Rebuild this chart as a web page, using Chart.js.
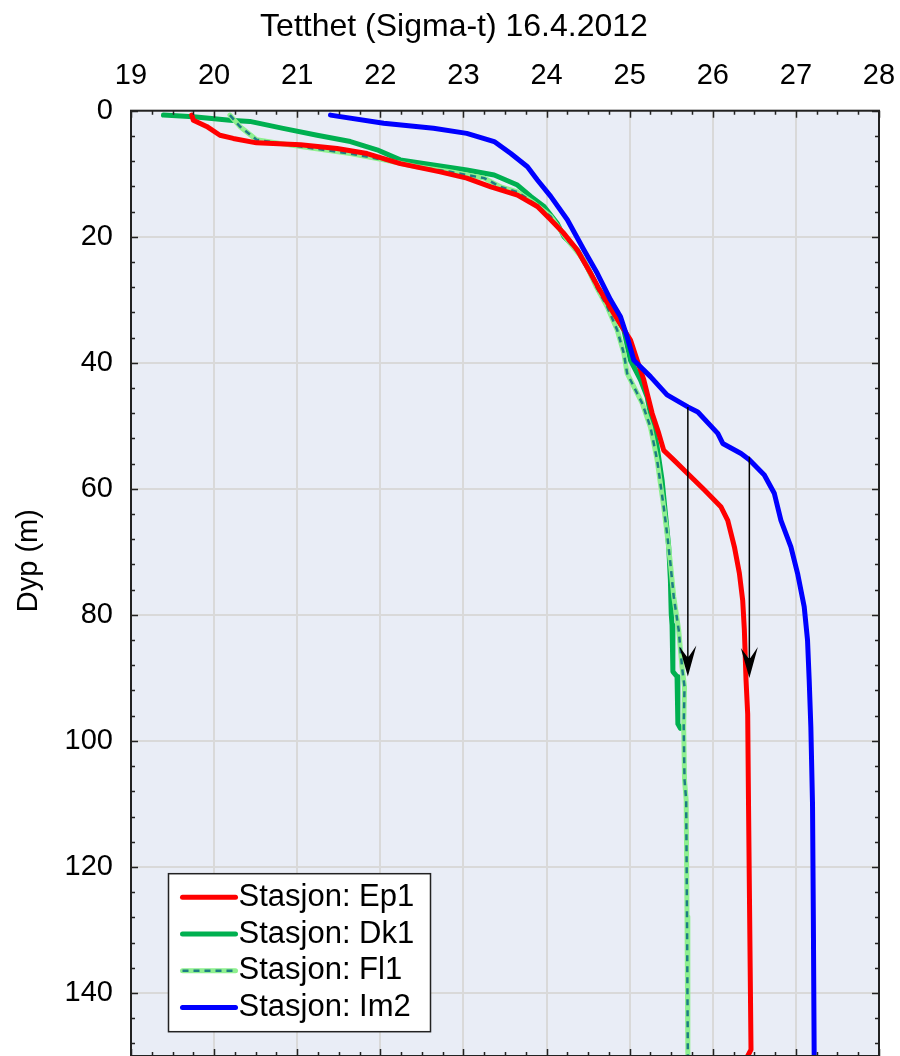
<!DOCTYPE html>
<html>
<head>
<meta charset="utf-8">
<script src="https://cdn.jsdelivr.net/npm/chart.js@4.4.1/dist/chart.umd.min.js"></script>
<style>
  html, body { margin: 0; padding: 0; background: #ffffff; }
  #wrap { width: 900px; height: 1056px; }
</style>
</head>
<body>
<div id="wrap"><canvas id="chart" width="900" height="1056"></canvas></div>
<script>
// Density profiles (sigma-t) versus depth, 16.4.2012
const chartTitle = 'Tetthet (Sigma-t) 16.4.2012';
const depthTitle = 'Dyp (m)';

const ep1Depth = [0.7, 1.5, 2.5, 3.9, 4.4, 5.1, 5.4, 6.0, 6.8, 8.4, 9.7, 10.7, 12.1, 13.4, 15.2, 17.3, 19.5, 22.1, 25.8, 28.0, 32.2, 36.4, 39.6, 42.7, 48.0, 51.2, 53.9, 55.4, 57.6, 60.2, 62.9, 65.0, 69.2, 73.4, 77.7, 82.4, 90.3, 95.7, 110, 136, 149, 150];
const ep1Sigma = [19.73, 19.75, 19.91, 20.07, 20.23, 20.51, 21.04, 21.48, 21.84, 22.24, 22.72, 23.04, 23.33, 23.65, 23.89, 24.05, 24.21, 24.37, 24.53, 24.62, 24.81, 25.01, 25.09, 25.17, 25.27, 25.35, 25.41, 25.53, 25.70, 25.90, 26.10, 26.18, 26.26, 26.32, 26.36, 26.38, 26.40, 26.42, 26.43, 26.45, 26.46, 26.42];

const dk1Depth = [0.7, 0.95, 1.5, 1.7, 2.8, 3.9, 4.9, 6.2, 7.8, 8.6, 9.4, 10.2, 11.8, 13.6, 15.2, 17.9, 20.0, 22.1, 24.8, 27.9, 31.1, 34.8, 39.6, 42.7, 45.4, 48.0, 53.3, 58.6, 63.9, 69.2, 74.5, 79.8, 81.6, 89.0, 89.8, 97.3, 98.0];
const dk1Sigma = [19.39, 19.75, 20.19, 20.43, 20.83, 21.24, 21.64, 21.96, 22.24, 22.64, 23.04, 23.37, 23.65, 23.81, 23.97, 24.13, 24.21, 24.37, 24.49, 24.61, 24.77, 24.93, 25.01, 25.13, 25.21, 25.25, 25.33, 25.39, 25.43, 25.47, 25.49, 25.50, 25.51, 25.52, 25.57, 25.58, 25.61];

const fl1Depth = [0.7, 2.5, 4.6, 5.7, 6.8, 7.8, 8.9, 9.7, 10.7, 12.1, 12.9, 14.7, 16.8, 20.5, 23.7, 28.0, 31.1, 34.8, 38.5, 41.7, 43.8, 46.4, 50.2, 55.4, 62.9, 67.1, 71.8, 77.1, 82.4, 88.3, 91.4, 97.8, 106.2, 109.4, 127.9, 150];
const fl1Sigma = [20.19, 20.31, 20.51, 21.04, 21.64, 22.04, 22.44, 22.84, 23.25, 23.45, 23.65, 23.85, 24.05, 24.25, 24.45, 24.60, 24.73, 24.85, 24.93, 24.97, 25.05, 25.15, 25.25, 25.33, 25.41, 25.45, 25.49, 25.53, 25.59, 25.63, 25.66, 25.65, 25.66, 25.68, 25.69, 25.70];

const im2Depth = [0.7, 2.0, 2.8, 3.6, 4.9, 6.8, 8.9, 11.0, 13.6, 17.3, 22.1, 25.8, 30.0, 32.7, 35.9, 39.6, 42.2, 45.1, 47.0, 47.8, 51.2, 52.8, 54.4, 55.4, 57.8, 60.7, 65.0, 69.2, 73.4, 78.7, 84.0, 90.3, 97.8, 110, 128, 150];
const im2Sigma = [21.40, 22.04, 22.64, 23.04, 23.37, 23.57, 23.77, 23.89, 24.05, 24.25, 24.45, 24.61, 24.77, 24.89, 24.97, 25.05, 25.25, 25.45, 25.70, 25.82, 26.06, 26.12, 26.34, 26.44, 26.62, 26.74, 26.82, 26.94, 27.02, 27.10, 27.14, 27.16, 27.18, 27.20, 27.21, 27.22];

const stationLabels = ['Stasjon: Ep1', 'Stasjon: Dk1', 'Stasjon: Fl1', 'Stasjon: Im2'];

// Vertical arrows: sigma-t position, start depth, end depth
const arrowSigma = [25.70, 26.44];
const arrowFromDepth = [47.0, 54.9];
const arrowToDepth = [89.8, 90.0];

const sigmaMin = 19, sigmaMax = 28, sigmaStep = 1, sigmaMinorStep = 0.25;
const depthMin = 0, depthMax = 150, depthStep = 20, depthMinorStep = 4;

const FONT = "'Liberation Sans', Arial, sans-serif";
const RED = '#ff0000', GREEN = '#00b050', LIGHTGREEN = '#8ff08f', TEAL = '#1d7d84', BLUE = '#0000ff';

function pairs(xs, ys) { return xs.map((v, i) => ({ x: v, y: ys[i] })); }

const lineBase = { showLine: true, pointRadius: 0, pointHoverRadius: 0, tension: 0, fill: false, borderJoinStyle: 'round', borderCapStyle: 'round' };

const datasets = [
  Object.assign({ label: stationLabels[3], data: pairs(im2Sigma, im2Depth), borderColor: BLUE, borderWidth: 5 }, lineBase),
  Object.assign({ label: stationLabels[0], data: pairs(ep1Sigma, ep1Depth), borderColor: RED, borderWidth: 5 }, lineBase),
  Object.assign({ label: stationLabels[2] + ' dash', data: pairs(fl1Sigma, fl1Depth), borderColor: TEAL, borderWidth: 2.5, borderDash: [6, 5] }, lineBase, { borderCapStyle: 'butt' }),
  Object.assign({ label: stationLabels[2], data: pairs(fl1Sigma, fl1Depth), borderColor: LIGHTGREEN, borderWidth: 5 }, lineBase),
  Object.assign({ label: stationLabels[1], data: pairs(dk1Sigma, dk1Depth), borderColor: GREEN, borderWidth: 5 }, lineBase)
];

// Plot background
const plotBackground = {
  id: 'plotBackground',
  beforeDraw(chart) {
    const { ctx, chartArea: a } = chart;
    ctx.save();
    ctx.fillStyle = '#e9edf6';
    ctx.fillRect(a.left, a.top, a.right - a.left, a.bottom - a.top);
    ctx.restore();
  }
};

// Frame with inward tick marks on all four sides
const frameTicks = {
  id: 'frameTicks',
  afterDatasetsDraw(chart) {
    const { ctx, chartArea: a, scales } = chart;
    const xs = scales.x, ys = scales.y;
    ctx.save();
    ctx.strokeStyle = '#222';
    ctx.lineWidth = 1.5;
    ctx.beginPath();
    const perMajorX = Math.round(sigmaStep / sigmaMinorStep);
    for (let i = 0; sigmaMin + i * sigmaMinorStep <= sigmaMax + 1e-9; i++) {
      const v = sigmaMin + i * sigmaMinorStep;
      const px = Math.round(xs.getPixelForValue(v)) + 0.5;
      const len = (i % perMajorX === 0) ? 7 : 4;
      ctx.moveTo(px, a.top); ctx.lineTo(px, a.top + len);
      ctx.moveTo(px, a.bottom); ctx.lineTo(px, a.bottom - len);
    }
    for (let v = depthMin; v <= depthMax; v += depthMinorStep) {
      const py = Math.round(ys.getPixelForValue(v)) + 0.5;
      const len = (v % depthStep === 0) ? 7 : 4;
      ctx.moveTo(a.left, py); ctx.lineTo(a.left + len, py);
      ctx.moveTo(a.right, py); ctx.lineTo(a.right - len, py);
    }
    ctx.stroke();
    ctx.lineWidth = 2;
    ctx.strokeRect(a.left, a.top, a.right - a.left, a.bottom - a.top);
    ctx.restore();
  }
};

// Arrows between profiles
const arrows = {
  id: 'arrows',
  afterDatasetsDraw(chart) {
    const { ctx, scales } = chart;
    ctx.save();
    ctx.strokeStyle = '#000';
    ctx.fillStyle = '#000';
    ctx.lineWidth = 1.5;
    arrowSigma.forEach((s, i) => {
      const x = scales.x.getPixelForValue(s);
      const y0 = scales.y.getPixelForValue(arrowFromDepth[i]);
      const y1 = scales.y.getPixelForValue(arrowToDepth[i]);
      ctx.beginPath();
      ctx.moveTo(x, y0);
      ctx.lineTo(x, y1 - 18);
      ctx.stroke();
      ctx.beginPath();
      ctx.moveTo(x, y1);
      ctx.lineTo(x - 8.5, y1 - 30);
      ctx.lineTo(x - 1, y1 - 20);
      ctx.lineTo(x + 1, y1 - 20);
      ctx.lineTo(x + 8.5, y1 - 31);
      ctx.closePath();
      ctx.fill();
    });
    ctx.restore();
  }
};

// Legend box in the lower left of the plot
const legendBox = {
  id: 'legendBox',
  afterDraw(chart) {
    const { ctx, chartArea: a } = chart;
    const left = a.left + 37.5, top = a.top + 763, w = 262, h = 158;
    ctx.save();
    ctx.fillStyle = '#ffffff';
    ctx.fillRect(left, top, w, h);
    ctx.strokeStyle = '#222';
    ctx.lineWidth = 1.5;
    ctx.strokeRect(left, top, w, h);
    const rows = [
      [{ c: RED, w: 5 }],
      [{ c: GREEN, w: 5 }],
      [{ c: LIGHTGREEN, w: 5 }, { c: TEAL, w: 2.5, dash: [6, 5] }],
      [{ c: BLUE, w: 5 }]
    ];
    const x0 = left + 14, x1 = left + 67;
    rows.forEach((strokes, i) => {
      const y = top + 23.5 + i * 36.8;
      strokes.forEach(s => {
        ctx.beginPath();
        ctx.strokeStyle = s.c;
        ctx.lineWidth = s.w;
        ctx.lineCap = s.dash ? 'butt' : 'round';
        ctx.setLineDash(s.dash || []);
        ctx.moveTo(x0, y); ctx.lineTo(x1, y);
        ctx.stroke();
      });
      ctx.setLineDash([]);
      ctx.fillStyle = '#000';
      ctx.font = '31px ' + FONT;
      ctx.textAlign = 'left';
      ctx.textBaseline = 'middle';
      ctx.fillText(stationLabels[i], x1 + 3, y);
    });
    ctx.restore();
  }
};

// Chart title and rotated depth title
const titles = {
  id: 'titles',
  afterDraw(chart) {
    const { ctx, chartArea: a } = chart;
    ctx.save();
    ctx.fillStyle = '#000';
    ctx.font = '32px ' + FONT;
    ctx.textAlign = 'center';
    ctx.textBaseline = 'middle';
    ctx.fillText(chartTitle, 454, 27);
    ctx.translate(29, a.top + 450);
    ctx.rotate(-Math.PI / 2);
    ctx.font = '29px ' + FONT;
    ctx.fillText(depthTitle, 0, 0);
    ctx.restore();
  }
};

function noEdgePadding(scale) {
  scale.paddingLeft = 0;
  scale.paddingRight = 0;
  scale.paddingTop = 0;
  scale.paddingBottom = 0;
}

Chart.defaults.font.family = FONT;
Chart.defaults.color = '#000';

new Chart(document.getElementById('chart'), {
  type: 'scatter',
  data: { datasets },
  options: {
    responsive: false,
    animation: false,
    events: [],
    layout: { autoPadding: false, padding: { left: 0, right: 21, top: 50.7, bottom: 0 } },
    plugins: {
      legend: { display: false },
      tooltip: { enabled: false },
      title: { display: false }
    },
    scales: {
      x: {
        type: 'linear',
        position: 'top',
        min: sigmaMin,
        max: sigmaMax,
        ticks: { stepSize: sigmaStep, padding: 17, font: { size: 29 }, color: '#000', includeBounds: false },
        grid: { color: '#d9d9d9', lineWidth: 2, drawTicks: false },
        border: { display: false },
        afterFit(scale) { scale.height = 60; noEdgePadding(scale); }
      },
      y: {
        type: 'linear',
        position: 'left',
        reverse: true,
        min: depthMin,
        max: depthMax,
        ticks: { stepSize: depthStep, padding: 18, font: { size: 29 }, color: '#000', includeBounds: false },
        grid: { color: '#d9d9d9', lineWidth: 2, drawTicks: false },
        border: { display: false },
        afterFit(scale) { scale.width = 131; noEdgePadding(scale); }
      }
    }
  },
  plugins: [plotBackground, frameTicks, arrows, legendBox, titles]
});
</script>
</body>
</html>
